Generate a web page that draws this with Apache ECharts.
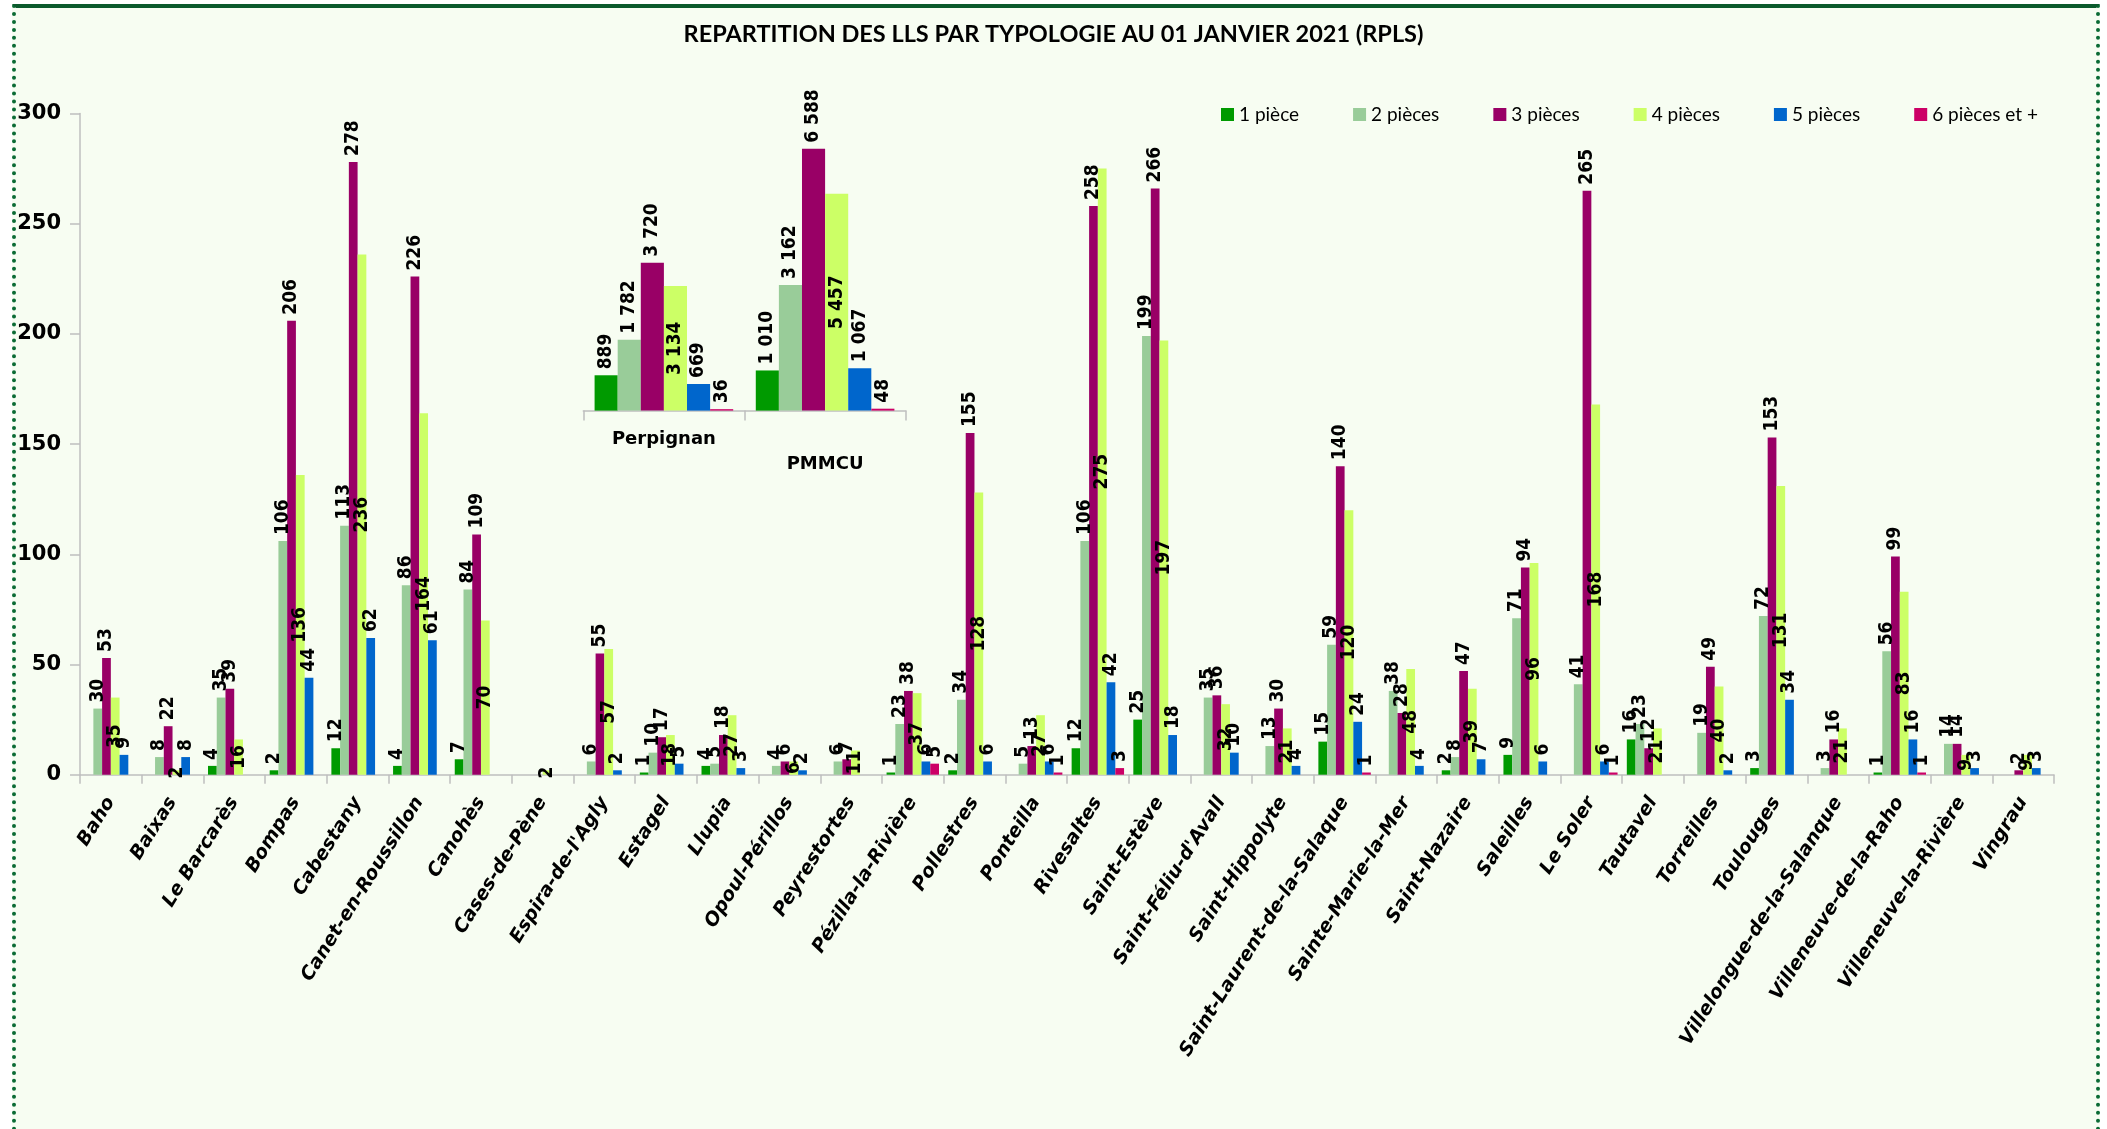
<!DOCTYPE html>
<html>
<head>
<meta charset="utf-8">
<script src="https://cdn.jsdelivr.net/npm/echarts@6/dist/echarts.min.js"></script>
<style>
  html, body { margin: 0; padding: 0; background: #ffffff; }
  #frame {
    position: absolute; left: 12px; top: 4px; width: 2080px; height: 1140px;
    background: #F7FDF2;
    border-top: 4px solid #0B5A2C;
    border-left: 4px dotted #0B6B35;
    border-right: 4px dotted #0B6B35;
  }
  #chart { position: absolute; left: 0; top: 0; width: 2107px; height: 1129px; }
</style>
</head>
<body>
<div id="frame"></div>
<div id="chart"></div>
<script>
const seriesNames = ['1 pièce', '2 pièces', '3 pièces', '4 pièces', '5 pièces', '6 pièces et +'];
const colors = ['#009A00', '#99CC99', '#990066', '#CCFF66', '#0066CC', '#CC0066'];

const categories = ['Baho', 'Baixas', 'Le Barcarès', 'Bompas', 'Cabestany', 'Canet-en-Roussillon', 'Canohès',
  'Cases-de-Pène', "Espira-de-l'Agly", 'Estagel', 'Llupia', 'Opoul-Périllos', 'Peyrestortes',
  'Pézilla-la-Rivière', 'Pollestres', 'Ponteilla', 'Rivesaltes', 'Saint-Estève', "Saint-Féliu-d'Avall",
  'Saint-Hippolyte', 'Saint-Laurent-de-la-Salaque', 'Sainte-Marie-la-Mer', 'Saint-Nazaire', 'Saleilles',
  'Le Soler', 'Tautavel', 'Torreilles', 'Toulouges', 'Villelongue-de-la-Salanque', 'Villeneuve-de-la-Raho',
  'Villeneuve-la-Rivière', 'Vingrau'];

const p1 = [null, null, 4, 2, 12, 4, 7, null, null, 1, 4, null, null, 1, 2, null, 12, 25, null, null, 15, null, 2, 9, null, 16, null, 3, null, 1, null, null];
const p2 = [30, 8, 35, 106, 113, 86, 84, null, 6, 10, 5, 4, 6, 23, 34, 5, 106, 199, 35, 13, 59, 38, 8, 71, 41, 23, 19, 72, 3, 56, 14, null];
const p3 = [53, 22, 39, 206, 278, 226, 109, null, 55, 17, 18, 6, 7, 38, 155, 13, 258, 266, 36, 30, 140, 28, 47, 94, 265, 12, 49, 153, 16, 99, 14, 2];
const p4 = [35, 2, 16, 136, 236, 164, 70, 2, 57, 18, 27, 6, 11, 37, 128, 27, 275, 197, 32, 21, 120, 48, 39, 96, 168, 21, 40, 131, 21, 83, 9, 9];
const p5 = [9, 8, null, 44, 62, 61, null, null, 2, 5, 3, 2, null, 6, 6, 6, 42, 18, 10, 4, 24, 4, 7, 6, 6, null, 2, 34, null, 16, 3, 3];
const p6 = [null, null, null, null, null, null, null, null, null, null, null, null, null, 5, null, 1, 3, null, null, null, 1, null, null, null, 1, null, null, null, null, 1, null, null];

const yTicks = [0, 50, 100, 150, 200, 250, 300];

const insetCategories = ['Perpignan', 'PMMCU'];
const insetP1 = [889, 1010];
const insetP2 = [1782, 3162];
const insetP3 = [3720, 6588];
const insetP4 = [3134, 5457];
const insetP5 = [669, 1067];
const insetP6 = [36, 48];

const mainData = [p1, p2, p3, p4, p5, p6];
const insetData = [insetP1, insetP2, insetP3, insetP4, insetP5, insetP6];

function fmt(v) { return String(v).replace(/\B(?=(\d{3})+(?!\d))/g, ' '); }

const labelFont = { fontFamily: 'DejaVu Sans Condensed', fontWeight: 'bold', fontSize: 19, color: '#000' };
function labelFor(i, inset) {
  const base = Object.assign({ show: true, rotate: 90, formatter: p => (p.value == null ? '' : (inset ? fmt(p.value) : p.value)) }, labelFont);
  if (i === 3) {
    return Object.assign(base, { position: 'inside', align: 'center', verticalAlign: 'middle' });
  }
  return Object.assign(base, { position: 'top', align: 'left', verticalAlign: 'middle', distance: 6 });
}

const series = [];
seriesNames.forEach((name, i) => {
  series.push({
    name, type: 'bar', xAxisIndex: 0, yAxisIndex: 0,
    data: mainData[i], barGap: '0%', barCategoryGap: '15%',
    itemStyle: { color: colors[i] }, label: labelFor(i, false)
  });
});
seriesNames.forEach((name, i) => {
  series.push({
    name, type: 'bar', xAxisIndex: 1, yAxisIndex: 1,
    data: insetData[i], barGap: '0%', barCategoryGap: '14%',
    itemStyle: { color: colors[i] }, label: labelFor(i, true)
  });
});

const chart = echarts.init(document.getElementById('chart'));
chart.setOption({
  backgroundColor: 'transparent',
  animation: false,
  title: {
    text: 'REPARTITION DES LLS PAR TYPOLOGIE AU 01 JANVIER 2021 (RPLS)',
    left: 'center', top: 17,
    textStyle: { fontFamily: 'Lato', fontWeight: 'bold', fontSize: 23.5, color: '#000' }
  },
  legend: {
    data: seriesNames, left: 1216, top: 100, icon: 'rect', itemWidth: 13, itemHeight: 13, itemGap: 54,
    textStyle: { fontFamily: 'Lato', fontSize: 19, color: '#000' }
  },
  grid: [
    { left: 80, right: 53, top: 113.5, bottom: 354.3, containLabel: false },
    { left: 583.3, width: 322.4, top: 132.4, height: 278.2, containLabel: false }
  ],
  xAxis: [
    {
      type: 'category', data: categories, gridIndex: 0,
      axisLine: { lineStyle: { color: '#BFBFBF', width: 1.5 } },
      axisTick: { show: true, length: 9, lineStyle: { color: '#BFBFBF', width: 1.5 } },
      axisLabel: { interval: 0, rotate: 58, margin: 24, fontFamily: 'DejaVu Sans', fontStyle: 'italic', fontWeight: 'bold', fontSize: 19, color: '#000' }
    },
    {
      type: 'category', data: [insetCategories[0], { value: insetCategories[1], textStyle: { padding: [25, 0, 0, 0] } }], gridIndex: 1,
      axisLine: { lineStyle: { color: '#BFBFBF', width: 1.5 } },
      axisTick: { show: true, length: 10, lineStyle: { color: '#BFBFBF', width: 1.5 } },
      axisLabel: { interval: 0, margin: 20, fontFamily: 'DejaVu Sans', fontWeight: 'bold', fontSize: 18, color: '#000' }
    }
  ],
  yAxis: [
    {
      type: 'value', gridIndex: 0, min: yTicks[0], max: yTicks[yTicks.length - 1], interval: 50,
      splitLine: { show: false },
      axisLine: { show: true, lineStyle: { color: '#BFBFBF', width: 1.5 } },
      axisTick: { show: true, length: 10, lineStyle: { color: '#BFBFBF', width: 1.5 } },
      axisLabel: { margin: 19, fontFamily: 'DejaVu Sans', fontWeight: 'bold', fontSize: 21, color: '#000' }
    },
    {
      type: 'value', gridIndex: 1, min: 0, max: 7000, show: false, splitLine: { show: false }
    }
  ],
  series
});
</script>
</body>
</html>
